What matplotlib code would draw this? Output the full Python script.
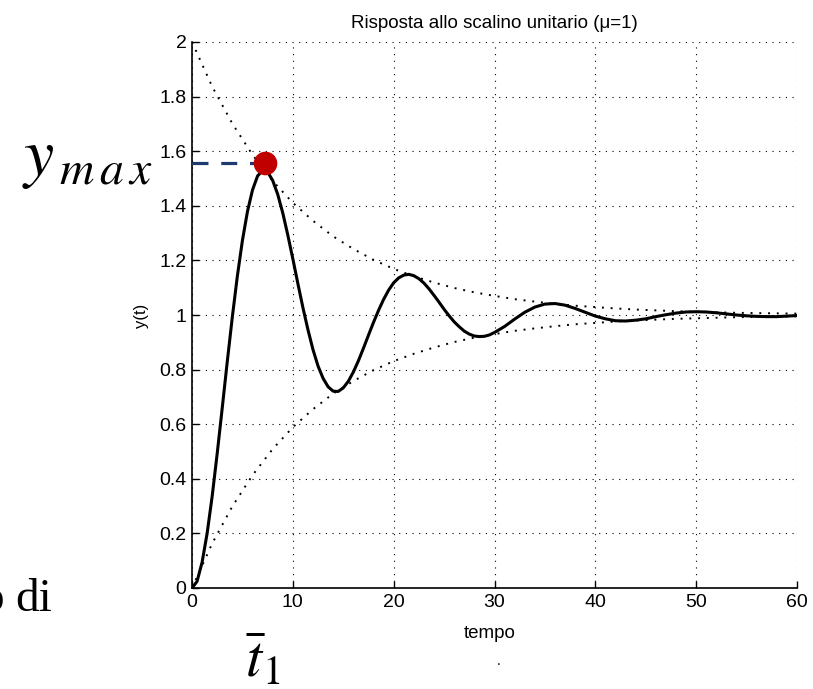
import numpy as np
import matplotlib
matplotlib.use("Agg")
import matplotlib.pyplot as plt

# Step response of the under-damped system (dense sampling up to t=30)
t_resp = np.concatenate([np.arange(0, 30.5, 0.5), np.arange(31, 61, 1)])
y_resp = [
    0.000, 0.024, 0.094, 0.200, 0.336, 0.493, 0.660, 0.830, 0.993, 1.143,
    1.273, 1.379, 1.458, 1.509, 1.530, 1.524, 1.493, 1.442, 1.374, 1.293,
    1.206, 1.115, 1.027, 0.946, 0.873, 0.813, 0.768, 0.737, 0.721, 0.720,
    0.733, 0.757, 0.791, 0.832, 0.878, 0.926, 0.973, 1.017, 1.057, 1.091,
    1.118, 1.136, 1.146, 1.149, 1.144, 1.133, 1.117, 1.096, 1.072, 1.047,
    1.021, 0.997, 0.975, 0.957, 0.941, 0.930, 0.923, 0.921, 0.922, 0.927,
    0.936,
    0.958, 0.985, 1.010, 1.029, 1.040, 1.042, 1.036, 1.024, 1.010, 0.996,
    0.986, 0.979, 0.978, 0.981, 0.986, 0.994, 1.001, 1.007, 1.011, 1.012,
    1.011, 1.008, 1.004, 1.000, 0.997, 0.995, 0.994, 0.994, 0.996, 0.998,
]

# Exponential envelopes
t_env = np.arange(0, 61, 2)
env_upper = [
    2.000, 1.837, 1.701, 1.587, 1.491, 1.411, 1.345, 1.288, 1.242, 1.202,
    1.169, 1.142, 1.119, 1.099, 1.083, 1.070, 1.058, 1.049, 1.041, 1.034,
    1.029, 1.024, 1.020, 1.017, 1.014, 1.012, 1.010, 1.008, 1.007, 1.006,
    1.005,
]
env_lower = [
    0.000, 0.163, 0.299, 0.413, 0.509, 0.589, 0.655, 0.712, 0.758, 0.798,
    0.831, 0.858, 0.881, 0.901, 0.917, 0.930, 0.942, 0.951, 0.959, 0.966,
    0.971, 0.976, 0.980, 0.983, 0.986, 0.988, 0.990, 0.992, 0.993, 0.994,
    0.995,
]

# First peak (t1, ymax)
t_peak = 7.2
y_peak = 1.555

x_ticks = [0, 10, 20, 30, 40, 50, 60]
y_ticks = [0, 0.2, 0.4, 0.6, 0.8, 1.0, 1.2, 1.4, 1.6, 1.8, 2.0]
y_tick_labels = ["0", "0.2", "0.4", "0.6", "0.8", "1", "1.2", "1.4", "1.6", "1.8", "2"]

plt.rcParams["font.family"] = ["Liberation Sans Narrow", "Liberation Sans", "DejaVu Sans"]
plt.rcParams["mathtext.fontset"] = "stix"

W, H = 813, 689
fig = plt.figure(figsize=(W / 100, H / 100), dpi=100)
ax = fig.add_axes([192 / W, 1 - 588 / H, (797 - 192) / W, (588 - 42) / H])

ax.plot(t_resp, y_resp, color="black", lw=2.2, solid_joinstyle="round", zorder=3)
ax.plot(t_env, env_upper, color="black", lw=1.4, linestyle=(0, (1, 3.5)), zorder=2)
ax.plot(t_env, env_lower, color="black", lw=1.4, linestyle=(0, (1, 3.5)), zorder=2)

ax.plot([0, t_peak], [y_peak, y_peak], color="#1f3a6e", lw=2.3,
        linestyle=(0, (5, 4)), zorder=4, clip_on=False)
ax.plot(t_peak, y_peak, "o", color="#c00000", ms=16, zorder=5, clip_on=False)

ax.set_xlim(0, 60)
ax.set_ylim(0, 2)
ax.set_xticks(x_ticks)
ax.set_yticks(y_ticks)
ax.set_yticklabels(y_tick_labels)
ax.grid(True, color="black", linestyle=(0, (1, 5)), linewidth=0.8)
ax.set_axisbelow(True)
for side in ["top", "right"]:
    ax.spines[side].set_visible(False)
for side in ["left", "bottom"]:
    ax.spines[side].set_linewidth(1.2)
ax.tick_params(direction="in", length=5, width=1, labelsize=14, pad=4)

ax.set_title("Risposta allo scalino unitario (\u03bc=1)", fontsize=13.5, pad=10)
fig.text(490 / W, 1 - 638 / H, "tempo", fontsize=13.5, ha="center", va="baseline")
fig.text(499 / W, 1 - 665 / H, ".", fontsize=10, ha="center", va="baseline")
fig.text(141 / W, 1 - 316 / H, "y(t)", fontsize=12, rotation=90, ha="center", va="center")

# slide annotations
fig.text(22 / W, 1 - 175 / H, r"$y_{\,m\,a\,x}$", fontsize=49, ha="left", va="baseline")
fig.text(245 / W, 1 - 677 / H, r"$\bar{t}_1$", fontsize=42, ha="left", va="baseline")
fig.text(4 / W, 1 - 611 / H, "o", family="Liberation Serif", fontsize=34,
         ha="right", va="baseline")
fig.text(15 / W, 1 - 611 / H, "di", family="Liberation Serif", fontsize=34,
         ha="left", va="baseline")

fig.savefig("out.png", dpi=100)
